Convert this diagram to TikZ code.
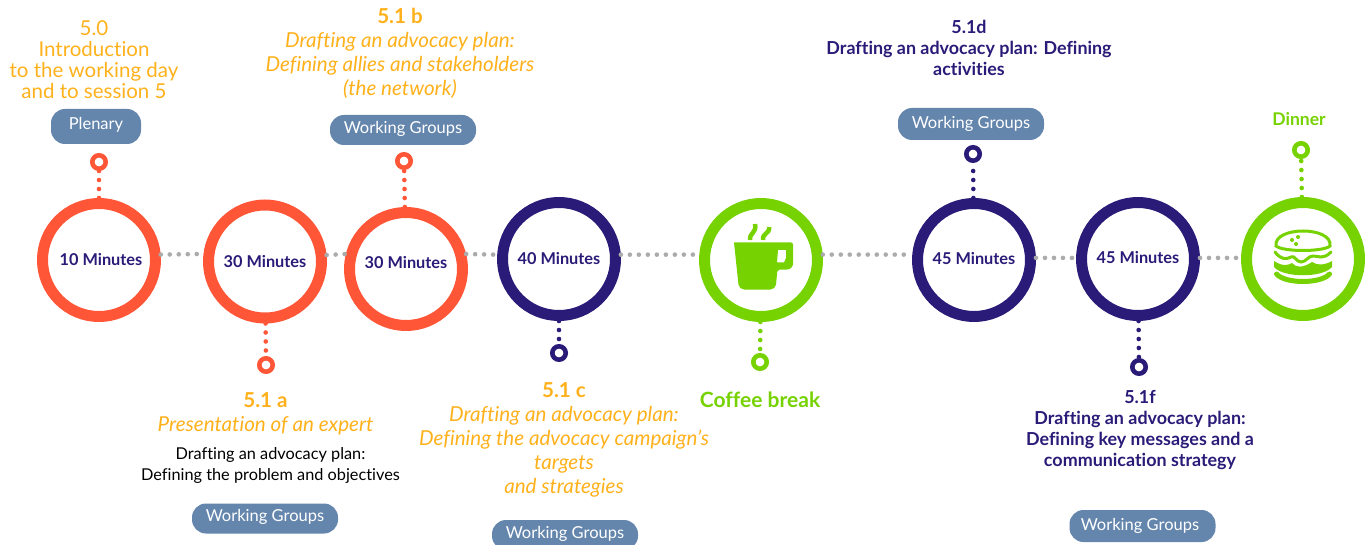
\documentclass[tikz,border=0pt]{standalone}
\usepackage{fontspec}
\setmainfont[Ligatures=NoCommon]{Lato}
\usetikzlibrary{positioning}

\definecolor{redc}{HTML}{FF5638}
\definecolor{navyc}{HTML}{2B1B78}
\definecolor{greenc}{HTML}{76D200}
\definecolor{orangec}{HTML}{FFB11B}
\definecolor{pillc}{HTML}{6486AD}
\definecolor{dotc}{HTML}{ABABAB}

\tikzset{
	ring/.style={draw=#1, circle, line width=11pt, minimum size=113pt, inner sep=0pt, text=navyc, font=\fontsize{16.3}{18}\selectfont\bfseries},
	pin/.style={draw=#1, circle, line width=4.6pt, minimum size=13.4pt, inner sep=0pt},
	dots/.style={draw=#1, line width=4.6pt, line cap=round, dash pattern=on 0pt off 9pt},
	pill/.style={fill=pillc, rounded corners=14pt, text=white, minimum height=30pt, minimum width=146pt, inner sep=0pt, font=\fontsize{16.5}{19}\selectfont},
	block/.style={text=#1, align=center, inner sep=0pt},
	big/.style={font=\fontsize{20.6}{24}\selectfont},
	small/.style={font=\fontsize{16.3}{20.8}\selectfont},
	navybold/.style={font=\fontsize{17.9}{20.8}\selectfont\bfseries},
}

\begin{document}
\begin{tikzpicture}[x=1pt, y=-1pt]
	\useasboundingbox (0,0) rectangle (1367,545);

	\node[ring=redc]   (c1) at (99,260)    {\hspace*{4pt}10 Minutes};
	\node[ring=redc]   (c2) at (265,261.5) {\raisebox{-3pt}{30 Minutes}};
	\node[ring=redc]   (c3) at (406,269)   {\raisebox{13.5pt}{30 Minutes}};
	\node[ring=navyc]  (c4) at (559,259)   {\raisebox{-9pt}{40 Minutes}};
	\node[ring=greenc] (c5) at (761,260)   {};
	\node[ring=navyc]  (c6) at (974,260)   {\raisebox{3pt}{45 Minutes}};
	\node[ring=navyc]  (c7) at (1138,259)  {\raisebox{3pt}{45 Minutes}};
	\node[ring=greenc] (c8) at (1303,259)  {};

	\node[pin=redc,   above=27pt of c1]             (pin1) {};
	\node[pin=redc,   below=32.5pt of c2, xshift=1pt] (pin2) {};
	\node[pin=redc,   above=37pt of c3, xshift=-2pt] (pin3) {};
	\node[pin=navyc,  below=23pt of c4]             (pin4) {};
	\node[pin=greenc, below=31pt of c5, xshift=-1pt] (pin5) {};
	\node[pin=navyc,  above=35pt of c6, xshift=-1pt] (pin6) {};
	\node[pin=navyc,  below=37pt of c7, xshift=1pt]  (pin7) {};
	\node[pin=greenc, above=38pt of c8, xshift=-2pt] (pin8) {};

	\node[pill, minimum width=90pt, minimum height=35pt] (plenary) at (96,126.5) {\raisebox{6pt}{Plenary}};
	\node[pill] (wg3) at (403,130)  {\raisebox{5pt}{Working Groups}};
	\node[pill] (wg2) at (265,518.5) {\raisebox{6pt}{Working Groups}};
	\node[pill] (wg4) at (565,535)  {\raisebox{5pt}{Working Groups}};
	\node[pill, minimum height=32pt] (wg6) at (971,124)  {Working Groups};
	\node[pill, minimum height=32pt] (wg7) at (1142.5,526) {\raisebox{-3pt}{Working Groups}\hspace*{5pt}};

	\node[block=orangec, font=\fontsize{20.5}{21}\selectfont] (t1) at (94,59.5)
		{5.0\\Introduction\\to the working day\\and to session 5};
	\node[block=orangec, big] (t3) at (400,53)
		{\textbf{5.1 b}\\\textit{Drafting an advocacy plan:}\\\textit{Defining allies and stakeholders}\\\textit{(the network)}};
	\node[block=orangec, big] (t2) at (265.5,414)
		{\textbf{5.1 a}\\\textit{Presentation of an expert}};
	\node[block=black, small] (t2b) at (270.5,465.5)
		{Drafting an advocacy plan:\\Defining the problem and objectives};
	\node[block=orangec, big] (t4) at (564,440)
		{\textbf{5.1 c}\\\textit{Drafting an advocacy plan:}\\\textit{Defining the advocacy campaign's}\\\textit{targets}\\\textit{and strategies}};
	\node[block=greenc, font=\fontsize{21}{25}\selectfont\bfseries] (t5) at (760,400) {Coffee break};
	\node[block=navyc, navybold] (t6) at (969,48)
		{5.1d\\Drafting an advocacy plan: Defining\\activities};
	\node[block=navyc, navybold] (t7) at (1140,430)
		{5.1f\\Drafting an advocacy plan:\\Defining key messages and a\\communication strategy};
	\node[block=greenc, font=\fontsize{17.5}{20}\selectfont\bfseries] (t8) at (1299,119) {Dinner};

	\draw[dots=dotc] (c1.5)  -- (c2.173);
	\draw[dots=dotc] (c2.6)  -- (c3.166);
	\draw[dots=dotc] (c3.14) -- (c4.176);
	\draw[dots=dotc] (c4.4)  -- (c5.175);
	\draw[dots=dotc] (c5.5)  -- (c6.175);
	\draw[dots=dotc] (c6.2)  -- (c7.179);
	\draw[dots=dotc] (c7.1)  -- (c8.179);

	\draw[dots=redc]   (c1) -- (pin1);
	\draw[dots=redc]   (c2) -- (pin2);
	\draw[dots=redc]   (c3) -- (pin3);
	\draw[dots=navyc]  (c4) -- (pin4);
	\draw[dots=greenc] (c5) -- (pin5);
	\draw[dots=navyc]  (c6) -- (pin6);
	\draw[dots=navyc]  (c7) -- (pin7);
	\draw[dots=greenc] (c8) -- (pin8);

	% cup
	\begin{scope}[shift={(c5.center)}]
		\fill[greenc, even odd rule, rounded corners=2pt]
			(-27,-17.5) -- (32,-17.5) [rounded corners=6pt] -- (32,9.5) [rounded corners=2pt] -- (16.5,9.5)
			[rounded corners=5pt] -- (14.5,29.5) -- (-22,29.5) [rounded corners=0pt] -- cycle
			(17,-10) -- (25,-10) -- (25,-2) -- (23,2.5) -- (16,2.5) -- cycle;
		\draw[greenc, line width=4.5pt] (-11,-20) .. controls (-12,-27) and (-4,-27) .. (-6,-36);
		\draw[greenc, line width=4.5pt] (2,-20) .. controls (1,-27) and (9,-26) .. (8,-33);
	\end{scope}

	% burger
	\begin{scope}[shift={(c8.center)}]
		\draw[greenc, line width=3pt] (-27,-13) .. controls (-30,-33) and (30,-33) .. (27,-13)
			.. controls (20,-7) and (-20,-7) .. cycle;
		\fill[greenc] (-11,-19) circle (2) (-5,-22) circle (2) (-7,-15) circle (2);
		\draw[greenc, line width=3pt, line cap=round] (-28,-7) .. controls (-23,0) and (-17,1) .. (-12,-2)
			.. controls (-8,-4) and (-7,3) .. (-2,3) .. controls (3,3) and (5,-3) .. (10,-3)
			.. controls (16,-3) and (20,1) .. (28,-7);
		\fill[greenc] (-29,2) .. controls (-20,8) and (-14,6) .. (-11,4) .. controls (-7,9) and (0,9) .. (9,3)
			.. controls (15,7) and (22,6) .. (29,2) -- (29,8) .. controls (20,19) and (-20,19) .. (-29,8) -- cycle;
		\draw[greenc, line width=5pt, line cap=round] (-26.5,15) .. controls (-18,25) and (18,25) .. (26.5,15);
	\end{scope}
\end{tikzpicture}
\end{document}
